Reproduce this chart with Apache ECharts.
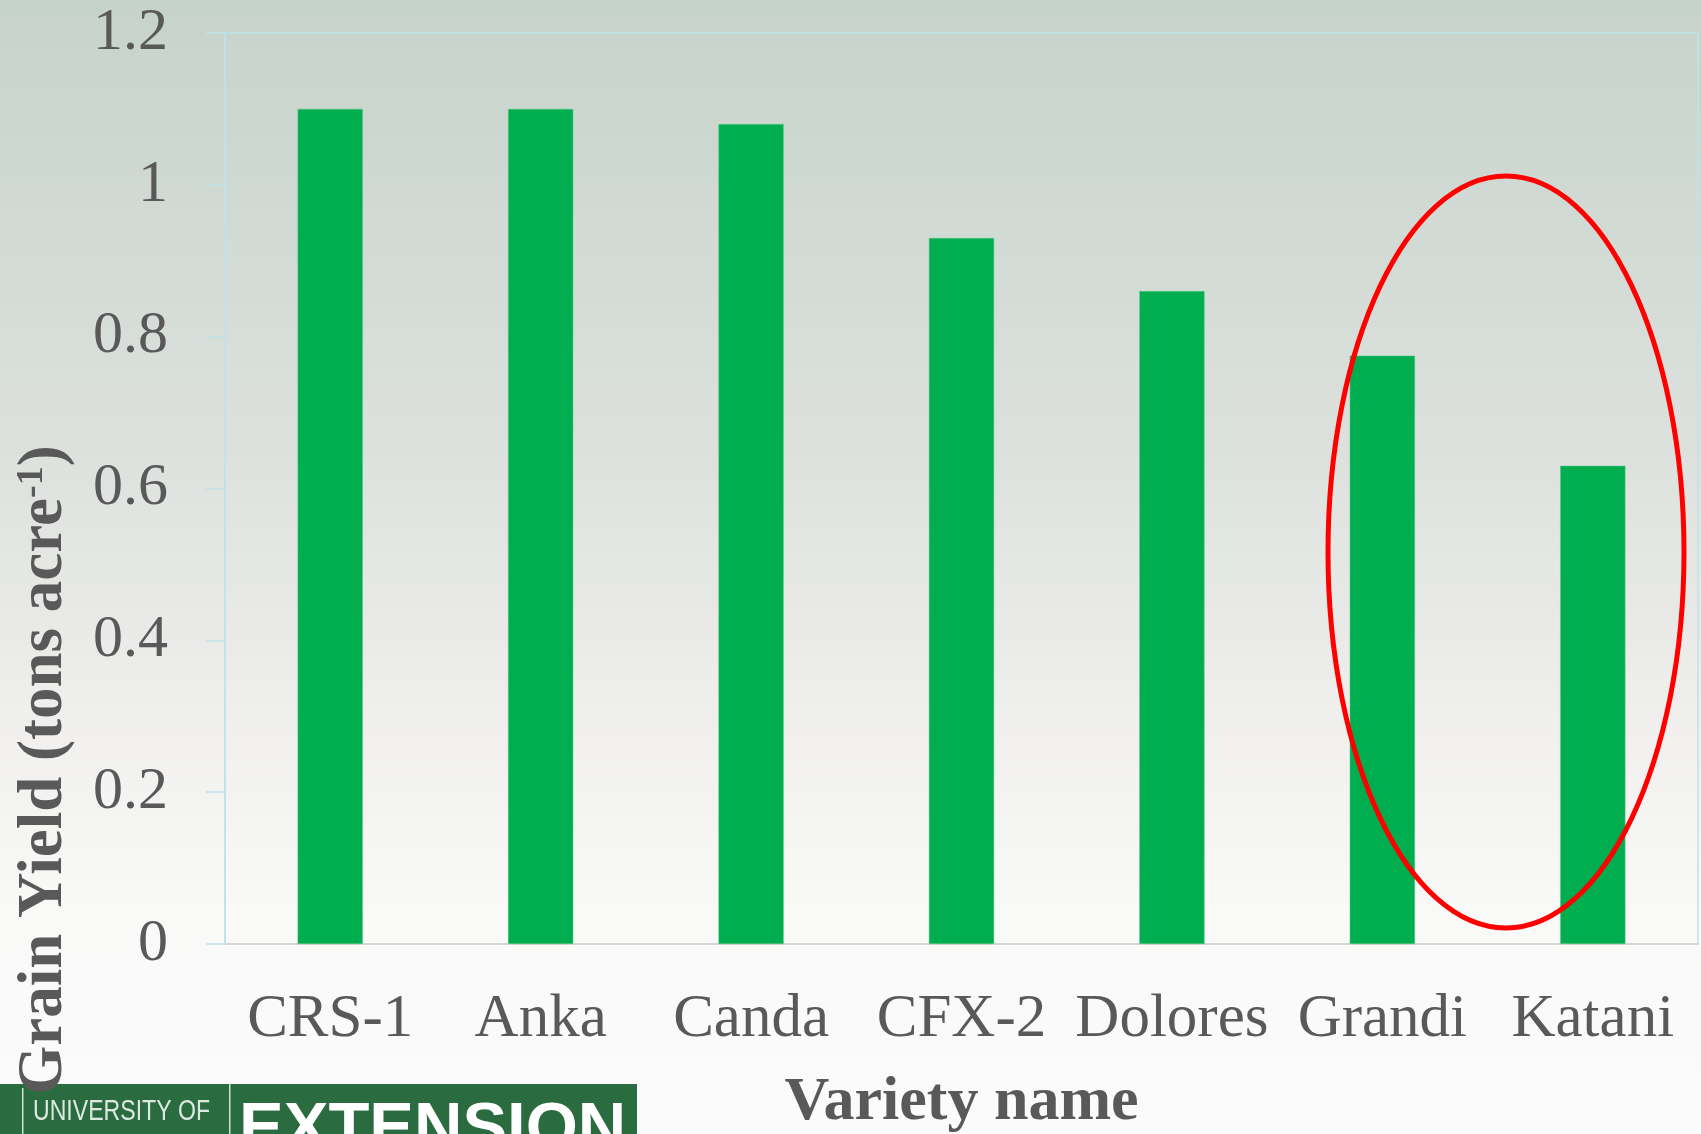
<!DOCTYPE html>
<html>
<head>
<meta charset="utf-8">
<title>Grain Yield by Variety</title>
<script src="https://cdn.jsdelivr.net/npm/echarts@6/dist/echarts.min.js"></script>
<style>
  html, body { margin: 0; padding: 0; }
  #chart { width: 1701px; height: 1134px; }
</style>
</head>
<body>
<div id="chart"></div>
<script>
// varieties and grain yield (tons acre-1)
var varieties = ['CRS-1', 'Anka', 'Canda', 'CFX-2', 'Dolores', 'Grandi', 'Katani']
var grainYield = [1.10, 1.10, 1.08, 0.93, 0.86, 0.775, 0.63]
var yTicks = { min: 0, max: 1.2, interval: 0.2 }

var textGrey = '#595959'
var serif = '"Liberation Serif", "Times New Roman", serif'

var chart = echarts.init(document.getElementById('chart'))

var option = {
  animation: false,
  grid: {
    left: 225,
    right: 3,
    top: 33,
    bottom: 190,
    outerBoundsMode: 'none',
    containLabel: false,
    show: true,
    borderColor: '#bfe3e6',
    borderWidth: 1.5,
    backgroundColor: 'transparent'
  },
  xAxis: {
    type: 'category',
    data: varieties,
    name: 'Variety name',
    nameLocation: 'middle',
    nameGap: 128,
    nameTextStyle: {
      fontFamily: serif,
      fontWeight: 'bold',
      fontSize: 62,
      color: textGrey
    },
    axisTick: { show: false },
    axisLine: { lineStyle: { color: '#d6d6d6', width: 2 } },
    axisLabel: {
      interval: 0,
      hideOverlap: false,
      margin: 45,
      fontFamily: serif,
      fontSize: 61,
      color: textGrey
    }
  },
  yAxis: {
    type: 'value',
    min: yTicks.min,
    max: yTicks.max,
    interval: yTicks.interval,
    axisLine: { show: true, lineStyle: { color: '#bfe3e6', width: 1.5 } },
    axisTick: { show: true, length: 19, lineStyle: { color: '#bfe3e6', width: 1.5 } },
    splitLine: { show: false },
    axisLabel: {
      margin: 57,
      fontFamily: serif,
      fontSize: 60,
      color: textGrey
    }
  },
  series: [
    {
      type: 'bar',
      data: grainYield,
      barWidth: '31%',
      itemStyle: { color: '#00ae4f', borderColor: '#5ccb8a', borderWidth: 0.5 }
    }
  ],
  graphic: [
    {
      // slide background
      type: 'rect',
      z: -100,
      silent: true,
      shape: { x: 0, y: 0, width: 1701, height: 1134 },
      style: {
        fill: {
          type: 'linear', x: 0, y: 0, x2: 0, y2: 1,
          colorStops: [
            { offset: 0, color: '#c6d3cb' },
            { offset: 0.4, color: '#dde1dd' },
            { offset: 0.65, color: '#f1f0ee' },
            { offset: 0.8, color: '#f9f9f8' },
            { offset: 1, color: '#fbfbfb' }
          ]
        }
      }
    },
    {
      type: 'ellipse',
      z: 50,
      silent: true,
      shape: { cx: 1506, cy: 552, rx: 178, ry: 376 },
      style: { fill: null, stroke: '#ff0000', lineWidth: 5 }
    },
    {
      // footer logo
      type: 'group',
      z: 100,
      silent: true,
      children: [
        {
          type: 'rect',
          shape: { x: 0, y: 1084, width: 637, height: 60 },
          style: { fill: '#2a6b40' }
        },
        {
          type: 'rect',
          shape: { x: 22, y: 1088, width: 1.5, height: 50 },
          style: { fill: '#cfe0d4' }
        },
        {
          type: 'rect',
          shape: { x: 229, y: 1084, width: 1.5, height: 60 },
          style: { fill: '#cfe0d4' }
        },
        {
          type: 'text',
          x: 33,
          y: 1097,
          scaleX: 0.77,
          style: {
            text: 'UNIVERSITY OF',
            fill: '#dde8e0',
            font: '30px "Liberation Sans", Arial, sans-serif',
            align: 'left',
            verticalAlign: 'top'
          }
        },
        {
          type: 'text',
          x: 239,
          y: 1097,
          style: {
            text: 'EXTENSION',
            fill: '#ffffff',
            font: 'bold 67px "Liberation Sans", Arial, sans-serif',
            align: 'left',
            verticalAlign: 'top'
          }
        }
      ]
    },
    {
      // y axis title
      type: 'text',
      z: 110,
      silent: true,
      x: 45,
      y: 770,
      rotation: Math.PI / 2,
      style: {
        text: '{t|Grain Yield (tons acre}{s|-1}{t|)}',
        align: 'center',
        verticalAlign: 'middle',
        rich: {
          t: { fontFamily: serif, fontWeight: 'bold', fontSize: 63, fill: textGrey, color: textGrey },
          s: { fontFamily: serif, fontWeight: 'bold', fontSize: 38, fill: textGrey, color: textGrey, verticalAlign: 'top', padding: [0, 0, 22, 0] }
        }
      }
    }
  ]
}

chart.setOption(option)
</script>
</body>
</html>
